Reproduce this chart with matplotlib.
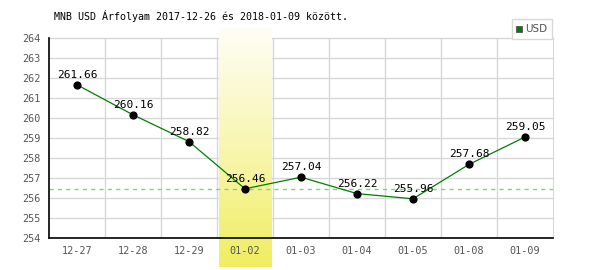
import numpy as np
import matplotlib.pyplot as plt
from matplotlib.colors import LinearSegmentedColormap

dates = ['12-27', '12-28', '12-29', '01-02', '01-03', '01-04', '01-05', '01-08', '01-09']
rates = [261.66, 260.16, 258.82, 256.46, 257.04, 256.22, 255.96, 257.68, 259.05]
highlight = 3
ref_level = 256.46
yticks = list(range(254, 265))

fig = plt.figure(figsize=(6, 2.7), dpi=100)
ax = fig.add_axes([49 / 600, 32 / 270, 504 / 600, 200 / 270])

x = np.arange(len(dates))
ax.set_xlim(-0.5, len(dates) - 0.5)
ax.set_ylim(254, 264)

# grid
for v in np.arange(0.5, len(dates) - 0.5):
    ax.axvline(v, color='#d8d8d8', lw=1, zorder=1)
for t in yticks[1:]:
    ax.axhline(t, color='#d8d8d8', lw=1, zorder=1, clip_on=False)

# yellow gradient band over the highlighted day (covers the grid)
cmap = LinearSegmentedColormap.from_list('yl', ['#fefef6', '#f8f6b0', '#f0ee60'])
grad = np.linspace(0, 1, 100).reshape(-1, 1)
ax.imshow(grad, cmap=cmap, aspect='auto', origin='upper',
          extent=(highlight - 0.47, highlight + 0.47, 252.55, 264.5),
          clip_on=False, zorder=1.5)

ax.axhline(ref_level, color='#88cc88', lw=1, ls=(0, (3, 3)), zorder=2)

ax.plot(x, rates, color='#008000', lw=0.9, zorder=3)
ax.scatter(x, rates, s=24, color='black', zorder=4)
for xi, v in zip(x, rates):
    ax.text(xi, v + 0.25, '%.2f' % v, ha='center', va='bottom',
            fontsize=8, family='DejaVu Sans Mono', zorder=5)

ax.set_xticks(x)
ax.set_xticklabels(dates)
ax.set_yticks(yticks)
ax.tick_params(length=0, labelsize=7.3, colors='#555555', pad=6)
for lab in ax.get_xticklabels() + ax.get_yticklabels():
    lab.set_family('DejaVu Sans Mono')

ax.spines['top'].set_visible(False)
ax.spines['right'].set_color('#d8d8d8')
ax.spines['left'].set_color('black')
ax.spines['bottom'].set_color('black')
ax.spines['left'].set_linewidth(1.2)
ax.spines['bottom'].set_linewidth(1.2)

fig.text(54 / 600, 1 - 16 / 270, 'MNB USD Árfolyam 2017-12-26 és 2018-01-09 között.',
         fontsize=7.2, family='DejaVu Sans Mono', va='center')

# legend box
fig.patches.append(plt.Rectangle((512 / 600, 1 - 39 / 270), 40 / 600, 20 / 270,
                                 transform=fig.transFigure, facecolor='white',
                                 edgecolor='#d8d8d8', lw=1))
fig.patches.append(plt.Rectangle((516 / 600, 1 - 32 / 270), 6 / 600, 6 / 270,
                                 transform=fig.transFigure, facecolor='#008000',
                                 edgecolor='#555555', lw=0.6))
fig.text(525 / 600, 1 - 29 / 270, 'USD', fontsize=7.5, color='#555555', va='center')

fig.savefig('out.png', dpi=100)
